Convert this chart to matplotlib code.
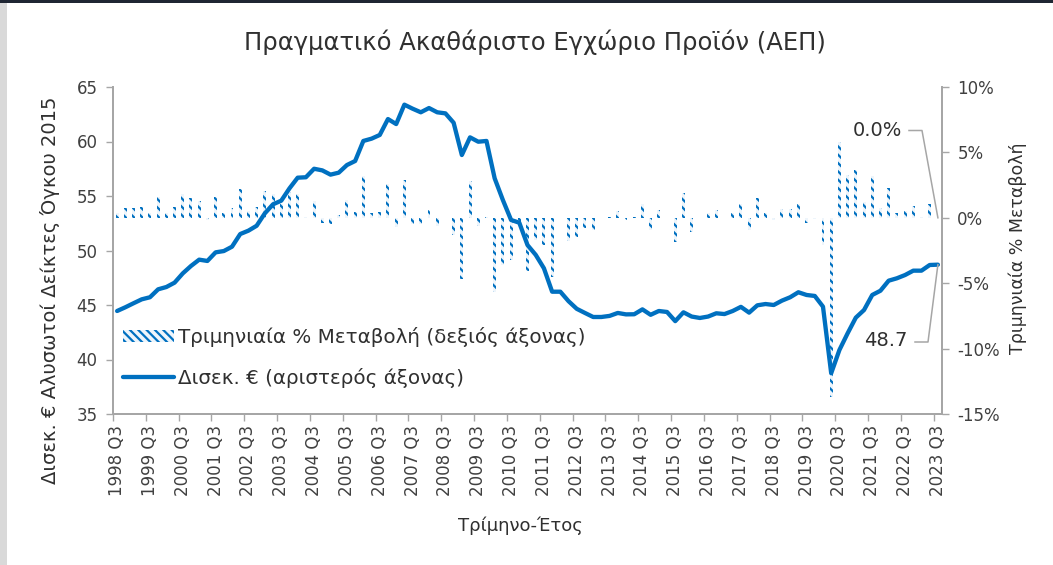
import matplotlib
matplotlib.use('Agg')
import matplotlib.pyplot as plt
import numpy as np
from matplotlib.patches import Rectangle
from matplotlib.lines import Line2D
from matplotlib.ticker import FuncFormatter

plt.rcParams['font.family'] = ['DejaVu Sans']
plt.rcParams['hatch.linewidth'] = 1.6

# ---------------- data ----------------
years = list(range(1998, 2024))
tick_labels = [f"{y} Q3" for y in years]

gdp_level = [
    44.45, 44.79, 45.16, 45.52, 45.71, 46.44, 46.65, 47.05, 47.90, 48.58,
    49.16, 49.04, 49.83, 49.95, 50.35, 51.51, 51.82, 52.27, 53.41, 54.24,
    54.57, 55.70, 56.68, 56.72, 57.50, 57.35, 56.96, 57.14, 57.84, 58.21,
    60.05, 60.26, 60.60, 62.06, 61.60, 63.38, 63.01, 62.68, 63.07, 62.68,
    62.58, 61.72, 58.76, 60.38, 59.98, 60.05, 56.62, 54.63, 52.80, 52.55,
    50.50, 49.60, 48.37, 46.22, 46.22, 45.35, 44.65, 44.27, 43.90, 43.90,
    44.00, 44.27, 44.14, 44.15, 44.60, 44.10, 44.45, 44.36, 43.52, 44.33,
    43.94, 43.81, 43.94, 44.24, 44.17, 44.45, 44.83, 44.30, 44.97, 45.09,
    45.00, 45.40, 45.71, 46.17, 45.92, 45.83, 44.85, 38.74, 40.87, 42.40,
    43.84, 44.54, 45.92, 46.31, 47.23, 47.45, 47.75, 48.15, 48.15, 48.67,
    48.70,
]

qoq_change = [
    0.35, 0.77, 0.77, 0.84, 0.40, 1.56, 0.38, 0.82, 1.80, 1.48,
    1.30, -0.13, 1.58, 0.33, 0.77, 2.20, 0.54, 0.84, 2.04, 1.80,
    1.05, 1.96, 1.80, 0.05, 1.28, -0.38, -0.48, 0.20, 1.35, 0.46,
    3.20, 0.33, 0.46, 2.55, -0.74, 2.88, -0.50, -0.48, 0.59, -0.60,
    -0.05, -1.33, -4.70, 2.80, -0.60, 0.05, -5.66, -3.62, -3.24, -0.50,
    -4.06, -1.70, -2.10, -4.50, -0.05, -1.78, -1.50, -0.80, -0.90, 0.00,
    0.05, 0.55, -0.17, 0.05, 1.06, -0.90, 0.60, -0.05, -1.88, 1.87,
    -1.06, -0.05, 0.33, 0.59, 0.02, 0.38, 1.02, -0.94, 1.48, 0.33,
    -0.13, 0.71, 0.71, 1.05, -0.43, -0.10, -2.10, -13.70, 5.80, 3.30,
    3.65, 1.22, 3.20, 0.77, 2.30, 0.38, 0.50, 0.90, 0.05, 1.02,
    0.00,
]

title = "Πραγματικό Ακαθάριστο Εγχώριο Προϊόν (ΑΕΠ)"
left_label = "Δισεκ. € Αλυσωτοί Δείκτες Όγκου 2015"
right_label = "Τριμηνιαία % Μεταβολή"
x_label = "Τρίμηνο-Έτος"
bar_name = "Τριμηνιαία % Μεταβολή (δεξιός άξονας)"
line_name = "Δισεκ. € (αριστερός άξονας)"

# ---------------- styling ----------------
W, H = 1053, 565
BLUE = '#0070C0'
AXC = '#A6A6A6'
TXT = '#404040'
DARK = '#303030'

fig = plt.figure(figsize=(W / 100, H / 100), dpi=100)
fig.patch.set_facecolor('white')
# frame remnants of the screenshot
fig.patches.append(Rectangle((0, 0), 7 / W, 1, transform=fig.transFigure,
                             facecolor='#D9D9D9', edgecolor='none', zorder=0))
fig.patches.append(Rectangle((0, 1 - 3 / H), 1, 3 / H, transform=fig.transFigure,
                             facecolor='#1F2633', edgecolor='none', zorder=0))

L, R, T, B = 113, 942, 87, 414
ax = fig.add_axes([L / W, 1 - B / H, (R - L) / W, (B - T) / H])
ax2 = ax.twinx()

n = len(gdp_level)
x = np.arange(n)

bars = ax2.bar(x, qoq_change, width=0.36, color='#EEF5FB', edgecolor=BLUE,
               hatch='\\\\\\\\', linewidth=0, label=bar_name)
line, = ax.plot(x, gdp_level, color=BLUE, lw=3.1, solid_joinstyle='round',
                solid_capstyle='round', label=line_name)

ax.set_zorder(ax2.get_zorder() + 1)
ax.patch.set_visible(False)

ax.set_xlim(-0.5, n - 0.5)
ax.set_ylim(35, 65)
ax.set_yticks(np.arange(35, 66, 5))
ax2.set_ylim(-15, 10)
ax2.set_yticks(np.arange(-15, 11, 5))
ax2.yaxis.set_major_formatter(FuncFormatter(lambda v, p: f"{int(v)}%"))

lab_pos = np.arange(0, n, 4)
ax.set_xticks(lab_pos - 0.5)
ax.set_xticklabels([])
ax.set_xticks(lab_pos, minor=True)
ax.set_xticklabels(tick_labels, minor=True, rotation=90, fontsize=12, color=TXT)
ax.tick_params(axis='x', which='major', length=5, color=AXC, width=1)
ax.tick_params(axis='x', which='minor', length=0, pad=8)
ax.tick_params(axis='y', length=5, color=AXC, width=1, labelsize=12,
               labelcolor=TXT, pad=6)
ax2.tick_params(axis='y', length=5, color=AXC, width=1, labelsize=12,
                labelcolor=TXT, pad=6)

for a in (ax, ax2):
    a.spines['top'].set_visible(False)
    for s in ('left', 'right', 'bottom'):
        a.spines[s].set_color(AXC)
        a.spines[s].set_linewidth(1.3)

fig.text(535 / W, 1 - 42 / H, title, ha='center', va='center', fontsize=17.5,
         color=DARK)
fig.text(50 / W, 1 - 290 / H, left_label, ha='center', va='center',
         rotation=90, fontsize=14, color=DARK)
fig.text(1018 / W, 1 - 248 / H, right_label, ha='center', va='center',
         rotation=90, fontsize=12.5, color=DARK)
fig.text(520 / W, 1 - 526 / H, x_label, ha='center', va='center',
         fontsize=13, color=DARK)

leg = fig.legend(handles=[bars, line], labels=[bar_name, line_name],
                 loc='upper left', bbox_to_anchor=(123 / W, 1 - 327 / H),
                 frameon=False, fontsize=14.3, handlelength=2.55,
                 handleheight=0.6, handletextpad=0.2, labelspacing=1.05,
                 borderaxespad=0, borderpad=0)
for t in leg.get_texts():
    t.set_color(DARK)

# data labels with leader lines
fig.canvas.draw()
px_bar = ax2.transData.transform((n - 1, qoq_change[-1]))
px_line = ax.transData.transform((n - 1, gdp_level[-1]))

fig.text(877 / W, 1 - 130 / H, f"{qoq_change[-1]:.1f}%", ha='center',
         va='center', fontsize=14, color=DARK)
fig.text(886 / W, 1 - 341 / H, f"{gdp_level[-1]:.1f}", ha='center',
         va='center', fontsize=14, color=DARK)

def lead(p0, p1, end):
    xs = [p0[0] / W, p1[0] / W, end[0] / W]
    ys = [p0[1] / H, p1[1] / H, end[1] / H]
    fig.lines.append(Line2D(xs, ys, transform=fig.transFigure, color=AXC,
                            lw=1.1, zorder=5))

lead((909, H - 130.5), (922, H - 130.5), px_bar)
lead((915, H - 342), (928, H - 342), px_line)

fig.savefig('out.png', dpi=100)
